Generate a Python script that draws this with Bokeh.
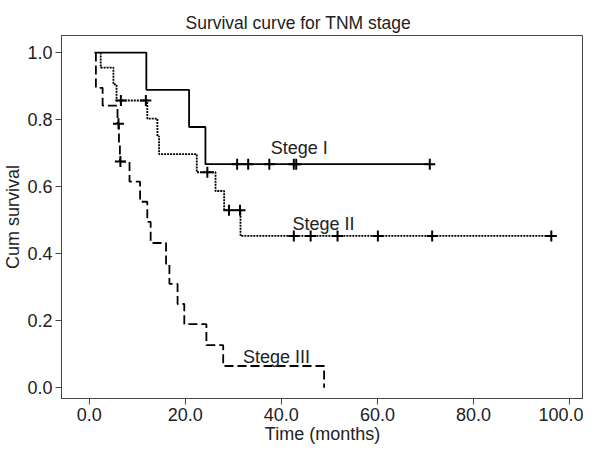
from bokeh.plotting import figure
from bokeh.models import FixedTicker, NumeralTickFormatter, Range1d
from bokeh.embed import file_html
from bokeh.resources import INLINE
from bokeh.core.properties import value

# ---- data ----
# Stage I (solid)
s1_time = [1.1, 11.9, 20.8, 24.2, 70.9]
s1_surv = [1.0, 0.889, 0.778, 0.667, 0.667]
s1_cens_t = [30.8, 33.1, 37.5, 42.6, 43.1, 70.9]
s1_cens_s = [0.667, 0.667, 0.667, 0.667, 0.667, 0.667]

# Stage II (dotted)
s2_time = [2.4, 2.4, 5.05, 5.7, 12.1, 14.2, 14.55, 22.4, 26.3, 28.1, 31.5, 96.2]
s2_surv = [1.0, 0.955, 0.905, 0.857, 0.803, 0.75, 0.697, 0.643, 0.587, 0.53, 0.453, 0.453]
s2_cens_t = [6.6, 11.8, 24.6, 29.1, 31.4, 42.6, 46.1, 51.7, 60.1, 71.4, 96.2]
s2_cens_s = [0.857, 0.857, 0.643, 0.53, 0.53, 0.453, 0.453, 0.453, 0.453, 0.453, 0.453]

# Stage III (dashed)
s3_time = [1.4, 1.4, 2.8, 5.9, 6.2, 6.4, 8.4, 10.6, 12.1, 12.8, 16.0, 16.7, 18.4, 19.8, 24.4, 27.9, 48.9]
s3_surv = [1.0, 0.895, 0.842, 0.788, 0.73, 0.675, 0.615, 0.555, 0.495, 0.432, 0.37, 0.31, 0.25, 0.19, 0.127, 0.065, 0.0]
s3_cens_t = [6.1, 6.5]
s3_cens_s = [0.788, 0.675]

x_ticks = [0, 20, 40, 60, 80, 100]
y_ticks = [0.0, 0.2, 0.4, 0.6, 0.8, 1.0]

labels = ["Stege I", "Stege II", "Stege III"]
label_x = [37.8, 42.3, 32.0]
label_y = [0.716, 0.490, 0.092]

FONT = "Liberation Sans"
TXT = "#222222"
AX = "#444444"

p = figure(width=583, height=446, output_backend="svg", toolbar_location=None,
           x_range=Range1d(-5.76, 102.9), y_range=Range1d(-0.032, 1.051),
           title="Survival curve for TNM stage")
p.min_border_left = 56
p.min_border_right = 0
p.min_border_top = 35
p.min_border_bottom = 10
p.background_fill_color = "white"
p.border_fill_color = "white"
p.outline_line_color = AX
p.outline_line_width = 1
p.grid.visible = False

p.title.align = "left"
p.title.offset = 124
p.title.text_font = FONT
p.title.text_font_size = "17.5px"
p.title.text_font_style = "normal"
p.title.text_color = TXT
p.title.standoff = 5

for ax in (p.xaxis[0], p.yaxis[0]):
    ax.axis_line_color = AX
    ax.major_tick_line_color = AX
    ax.minor_tick_line_color = None
    ax.major_tick_out = 6
    ax.major_tick_in = 0
    ax.major_label_text_font = FONT
    ax.major_label_text_font_size = "18px"
    ax.major_label_text_color = TXT
    ax.axis_label_text_font = FONT
    ax.axis_label_text_font_size = "18px"
    ax.axis_label_text_font_style = "normal"
    ax.axis_label_text_color = TXT
    ax.major_label_standoff = 3
    ax.axis_label_standoff = 0

p.yaxis[0].axis_label_standoff = 1

p.xaxis.ticker = FixedTicker(ticks=x_ticks)
p.yaxis.ticker = FixedTicker(ticks=y_ticks)
p.xaxis.formatter = NumeralTickFormatter(format="0.0")
p.yaxis.formatter = NumeralTickFormatter(format="0.0")
p.xaxis.axis_label = "Time (months)"
p.yaxis.axis_label = "Cum survival"

p.step(s1_time, s1_surv, mode="after", line_color="black", line_width=1.8)
p.step(s2_time, s2_surv, mode="after", line_color="black", line_width=1.8, line_dash="2 1")
p.step(s3_time, s3_surv, mode="after", line_color="black", line_width=1.8, line_dash="9 4")

for ct, cs in ((s1_cens_t, s1_cens_s), (s2_cens_t, s2_cens_s), (s3_cens_t, s3_cens_s)):
    p.scatter(ct, cs, marker="cross", size=11, line_color="black", line_width=2)

p.text(x=label_x, y=label_y, text=labels, text_font=value(FONT), text_font_size="18px",
       text_color=TXT, text_baseline="alphabetic", text_align="left")

open("out.html", "w").write(file_html(p, INLINE))
